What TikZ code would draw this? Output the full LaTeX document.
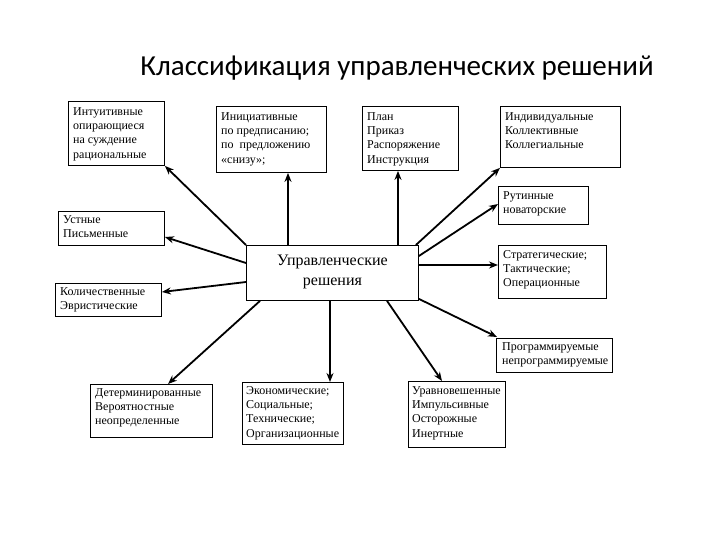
\documentclass[tikz,border=0pt]{standalone}
\usepackage{fontspec}
\setmainfont{Liberation Serif}
\newfontfamily\titlefont{Carlito}
\usetikzlibrary{arrows.meta,calc}
\begin{document}
\begin{tikzpicture}[x=1pt,y=-1pt,
  frame/.style={draw=black,line width=0.9pt,anchor=north west,inner sep=0pt,fill=white},
  txt/.style={anchor=north west,inner sep=0pt,align=left,font=\fontsize{12}{14.4}\selectfont},
  arr/.style={line width=1.8pt,-{Stealth[length=9pt,width=7pt]}}]
\useasboundingbox (0,0) rectangle (720,540);
\fill[white] (0,0) rectangle (720,540);
\node[font=\titlefont\fontsize{29}{34}\selectfont] (title) at (397,68) {Классификация управленческих решений};
% center
\node[frame,minimum width=172pt,minimum height=55pt] (c) at (246,245) {};
\node[font=\fontsize{16}{20}\selectfont,align=center,anchor=north] (ct) at ($(c.north)+(0,6)$) {Управленческие\\решения};
% boxes
\node[frame,minimum width=96pt,minimum height=64pt] (b1) at (68,101) {};
\node[txt] (t1) at ($(b1.north west)+(5,6)$) {Интуитивные\\опирающиеся\\на суждение\\рациональные};
\node[frame,minimum width=110pt,minimum height=66pt] (b2) at (216,106) {};
\node[txt] (t2) at ($(b2.north west)+(5,6)$) {Инициативные\\по предписанию;\\по~ предложению\\«снизу»;};
\node[frame,minimum width=96pt,minimum height=64pt] (b3) at (362,106) {};
\node[txt] (t3) at ($(b3.north west)+(5,6)$) {План\\Приказ\\Распоряжение\\Инструкция};
\node[frame,minimum width=120pt,minimum height=61pt] (b4) at (500,106) {};
\node[txt] (t4) at ($(b4.north west)+(5,6)$) {Индивидуальные\\Коллективные\\Коллегиальные};
\node[frame,minimum width=90pt,minimum height=38pt] (b5) at (498,186) {};
\node[txt] (t5) at ($(b5.north west)+(5,5)$) {Рутинные\\новаторские};
\node[frame,minimum width=106pt,minimum height=34pt] (b6) at (58,211) {};
\node[txt] (t6) at ($(b6.north west)+(5,4)$) {Устные\\Письменные};
\node[frame,minimum width=106pt,minimum height=33pt] (b7) at (55,283) {};
\node[txt] (t7) at ($(b7.north west)+(5,4)$) {Количественные\\Эвристические};
\node[frame,minimum width=108pt,minimum height=53pt] (b8) at (498,245) {};
\node[txt] (t8) at ($(b8.north west)+(5,5)$) {Стратегические;\\Тактические;\\Операционные};
\node[frame,minimum width=116pt,minimum height=34pt] (b9) at (496,338) {};
\node[txt] (t9) at ($(b9.north west)+(6,4)$) {Программируемые\\непрограммируемые};
\node[frame,minimum width=122pt,minimum height=53pt] (b10) at (90,384) {};
\node[txt] (t10) at ($(b10.north west)+(5,4)$) {Детерминированные\\Вероятностные\\неопределенные};
\node[frame,minimum width=101pt,minimum height=62pt] (b11) at (242,382) {};
\node[txt] (t11) at ($(b11.north west)+(4,4)$) {Экономические;\\Социальные;\\Технические;\\Организационные};
\node[frame,minimum width=97pt,minimum height=66pt] (b12) at (408,381) {};
\node[txt] (t12) at ($(b12.north west)+(4,5)$) {Уравновешенные\\Импульсивные\\Осторожные\\Инертные};
% arrow start points on the central box
\coordinate (s2) at ($(c.north west)+(42,0)$);
\coordinate (s3) at ($(c.north west)+(152,0)$);
\coordinate (s4) at ($(c.north east)+(-3,0)$);
\coordinate (s5) at ($(c.north east)+(0,11)$);
\coordinate (s6) at ($(c.north west)+(0,18)$);
\coordinate (s7) at ($(c.north west)+(0,37)$);
\coordinate (s8) at ($(c.north east)+(0,20)$);
\coordinate (s9) at ($(c.south east)+(0,-2)$);
\coordinate (s10) at ($(c.south west)+(14,0)$);
\coordinate (s11) at ($(c.south west)+(84,0)$);
\coordinate (s12) at ($(c.south west)+(141,0)$);
\coordinate (e5) at ($(b5.north west)+(0,18)$);
\coordinate (e6) at ($(b6.north east)+(0,26)$);
\coordinate (e7) at ($(b7.north east)+(0,9)$);
\coordinate (e9) at ($(b9.north west)+(1,-1)$);
\coordinate (e10) at ($(b10.north west)+(78,0)$);
\coordinate (e12) at ($(b12.north west)+(34,0)$);
% arrows
\draw[arr] (c.north west) -- (b1.south east);
\draw[arr] (s2) -- (s2 |- b2.south);
\draw[arr] (s3) -- (s3 |- b3.south);
\draw[arr] (s4) -- (b4.south west);
\draw[arr] (s5) -- (e5);
\draw[arr] (s6) -- (e6);
\draw[arr] (s7) -- (e7);
\draw[arr] (s8) -- (s8 -| b8.west);
\draw[arr] (s9) -- (e9);
\draw[arr] (s10) -- (e10);
\draw[arr] (s11) -- (s11 |- b11.north);
\draw[arr] (s12) -- (e12);
\end{tikzpicture}
\end{document}
